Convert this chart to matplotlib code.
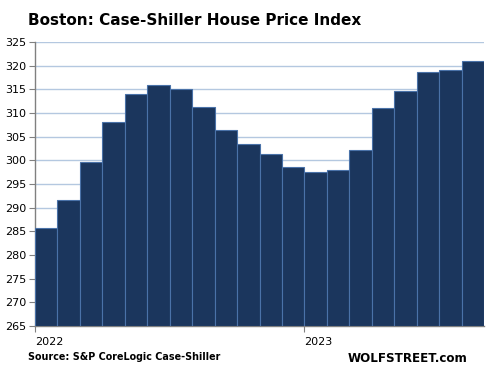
import matplotlib
matplotlib.use("Agg")
import matplotlib.pyplot as plt

months = list(range(20))
values = [285.6, 291.6, 299.6, 308.0, 314.0, 315.9, 315.1, 311.3, 306.4, 303.4,
          301.3, 298.5, 297.6, 297.9, 302.2, 311.1, 314.6, 318.6, 319.0, 320.9]
year_ticks = [0, 12]
year_labels = ["2022", "2023"]
yticks = list(range(265, 326, 5))

fig = plt.figure(figsize=(4.88, 3.75), dpi=100)
ax = fig.add_axes([0.0717, 0.1307, 0.9203, 0.7573])

ax.bar(months, [v - 265 for v in values], bottom=265, width=1.0, align='edge',
       color='#1b365d', edgecolor='#4a72a8', linewidth=0.8, zorder=3)

ax.set_xlim(0, 20)
ax.set_ylim(265, 325)
ax.set_yticks(yticks)
ax.set_yticklabels([str(t) for t in yticks], fontsize=8)
ax.yaxis.grid(True, color='#b4c8e0', linewidth=1.0, zorder=0)
ax.set_axisbelow(True)

ax.set_xticks(year_ticks)
ax.set_xticklabels(year_labels, fontsize=8, ha='left')
ax.tick_params(axis='x', length=4, color='#808080', pad=4)
ax.tick_params(axis='y', length=4, color='#808080', pad=2)

for s in ['top', 'right']:
    ax.spines[s].set_visible(False)
for s in ['left', 'bottom']:
    ax.spines[s].set_color('#808080')
    ax.spines[s].set_linewidth(1.0)

fig.text(0.057, 0.945, "Boston: Case-Shiller House Price Index", fontsize=11,
         fontweight='bold', ha='left', va='center')
fig.text(0.057, 0.048, "Source: S&P CoreLogic Case-Shiller", fontsize=6.9,
         fontweight='bold', ha='left', va='center')
fig.text(0.958, 0.045, "WOLFSTREET.com", fontsize=8.6,
         fontweight='bold', ha='right', va='center')

fig.savefig("out.png", dpi=100)
